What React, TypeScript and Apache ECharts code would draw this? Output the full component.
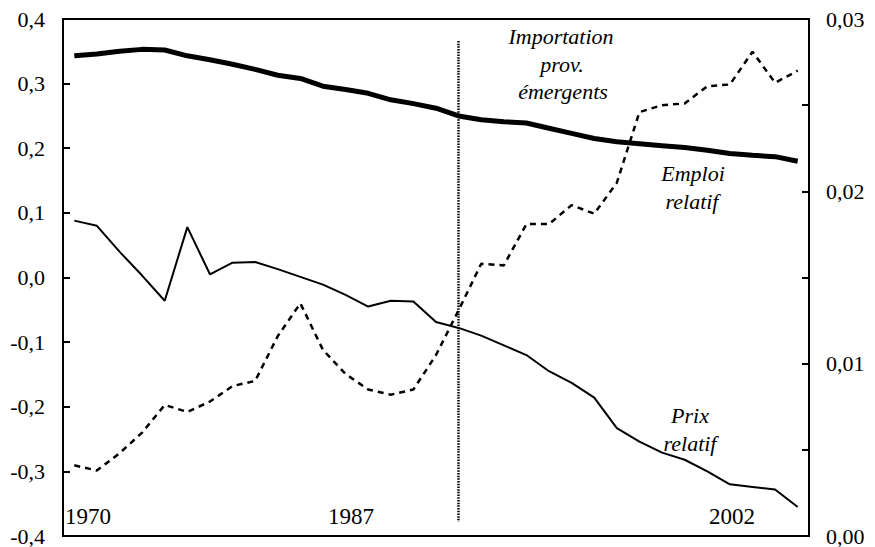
import React, { useEffect, useRef } from "react";
import * as echarts from "echarts";

const years = [
  "1970", "1971", "1972", "1973", "1974", "1975", "1976", "1977", "1978", "1979",
  "1980", "1981", "1982", "1983", "1984", "1985", "1986", "1987", "1988", "1989",
  "1990", "1991", "1992", "1993", "1994", "1995", "1996", "1997", "1998", "1999",
  "2000", "2001", "2002",
];

const emploiRelatif = [
  0.343, 0.346, 0.35, 0.353, 0.352, 0.343, 0.337, 0.33, 0.322, 0.313, 0.308, 0.296,
  0.291, 0.285, 0.275, 0.269, 0.262, 0.25, 0.244, 0.241, 0.239, 0.231, 0.223, 0.215,
  0.21, 0.207, 0.204, 0.201, 0.197, 0.192, 0.189, 0.187, 0.18,
];

const prixRelatif = [
  0.088, 0.08, 0.04, 0.003, -0.036, 0.078, 0.005, 0.023, 0.024, 0.013, 0.001, -0.011,
  -0.027, -0.045, -0.036, -0.037, -0.069, -0.078, -0.09, -0.105, -0.12, -0.145, -0.163,
  -0.186, -0.233, -0.254, -0.271, -0.282, -0.3, -0.32, -0.324, -0.328, -0.355,
];

const importation = [
  0.0041, 0.0038, 0.0048, 0.006, 0.0076, 0.0072, 0.0078, 0.0087, 0.009, 0.0116, 0.0135,
  0.0108, 0.0094, 0.0085, 0.0082, 0.0085, 0.0105, 0.0131, 0.0158, 0.0157, 0.0181, 0.0181,
  0.0192, 0.0187, 0.0205, 0.0246, 0.025, 0.0251, 0.0261, 0.0262, 0.0281, 0.0263, 0.027,
];

const yearLabels = ["1970", "1987", "2002"];
const markerYear = "1987";

const FONT = "Liberation Serif, Times New Roman, serif";

export default function App() {
  const ref = useRef<HTMLDivElement>(null);

  useEffect(() => {
    if (!ref.current) return;
    const chart = echarts.init(ref.current, undefined, { renderer: "svg" });

    const txt = (text: string, x: number, y: number, italic: boolean, size: number) => ({
      type: "text",
      x,
      y,
      silent: true,
      style: {
        text,
        x: 0,
        y: 0,
        align: "center",
        verticalAlign: "middle",
        fontFamily: FONT,
        fontSize: size,
        fontStyle: italic ? "italic" : "normal",
        fill: "#000",
      },
    });

    chart.setOption({
      animation: false,
      backgroundColor: "#fff",
      textStyle: { fontFamily: FONT },
      grid: {
        left: 63,
        right: 66,
        top: 19,
        bottom: 11,
        show: true,
        borderColor: "#000",
        borderWidth: 2,
        backgroundColor: "transparent",
      },
      xAxis: {
        type: "category",
        data: years,
        boundaryGap: true,
        axisLine: { show: true, onZero: false, lineStyle: { color: "#000", width: 2 } },
        axisTick: { show: false },
        axisLabel: { show: false },
        splitLine: { show: false },
      },
      yAxis: [
        {
          type: "value",
          min: -0.4,
          max: 0.4,
          interval: 0.1,
          position: "left",
          axisLine: { show: true, lineStyle: { color: "#000", width: 2 } },
          axisTick: { show: true, inside: true, length: 7, lineStyle: { color: "#000", width: 2 } },
          axisLabel: {
            margin: 18,
            color: "#000",
            fontFamily: FONT,
            fontSize: 22,
            formatter: (v: number) => v.toFixed(1).replace(".", ","),
          },
          splitLine: { show: false },
        },
        {
          type: "value",
          min: 0,
          max: 0.03,
          interval: 0.005,
          position: "right",
          axisLine: { show: true, lineStyle: { color: "#000", width: 2 } },
          axisTick: { show: true, inside: true, length: 7, lineStyle: { color: "#000", width: 2 } },
          axisLabel: {
            margin: 17,
            color: "#000",
            fontFamily: FONT,
            fontSize: 22,
            formatter: (v: number) =>
              Math.round(v * 200) % 2 === 0 ? v.toFixed(2).replace(".", ",") : "",
          },
          splitLine: { show: false },
        },
      ],
      series: [
        {
          name: "Emploi relatif",
          type: "line",
          yAxisIndex: 0,
          data: emploiRelatif,
          symbol: "none",
          lineStyle: { color: "#000", width: 5 },
          z: 3,
          markLine: {
            silent: true,
            symbol: "none",
            label: { show: false },
            lineStyle: { color: "#000", width: 2.5, type: [1.5, 1.2] },
            data: [[{ coord: [markerYear, 0.366] }, { coord: [markerYear, -0.378] }]],
          },
        },
        {
          name: "Prix relatif",
          type: "line",
          yAxisIndex: 0,
          data: prixRelatif,
          symbol: "none",
          lineStyle: { color: "#000", width: 2 },
          z: 3,
        },
        {
          name: "Importation prov. émergents",
          type: "line",
          yAxisIndex: 1,
          data: importation,
          symbol: "none",
          lineStyle: { color: "#000", width: 2.5, type: [6, 5] },
          z: 2,
        },
      ],
      graphic: [
        txt(yearLabels[0], 88, 516, false, 23),
        txt(yearLabels[1], 351, 516, false, 23),
        txt(yearLabels[2], 732, 516, false, 23),
        txt("Importation", 561, 36, true, 22),
        txt("prov.", 562, 64, true, 22),
        txt("émergents", 563, 91, true, 22),
        txt("Emploi", 693, 173, true, 22),
        txt("relatif", 692, 201, true, 22),
        txt("Prix", 690, 415, true, 22),
        txt("relatif", 690, 443, true, 22),
      ],
    });

    return () => chart.dispose();
  }, []);

  return (
    <div
      ref={ref}
      style={{ position: "fixed", left: 0, top: 0, width: 875, height: 547, background: "#fff" }}
    />
  );
}
